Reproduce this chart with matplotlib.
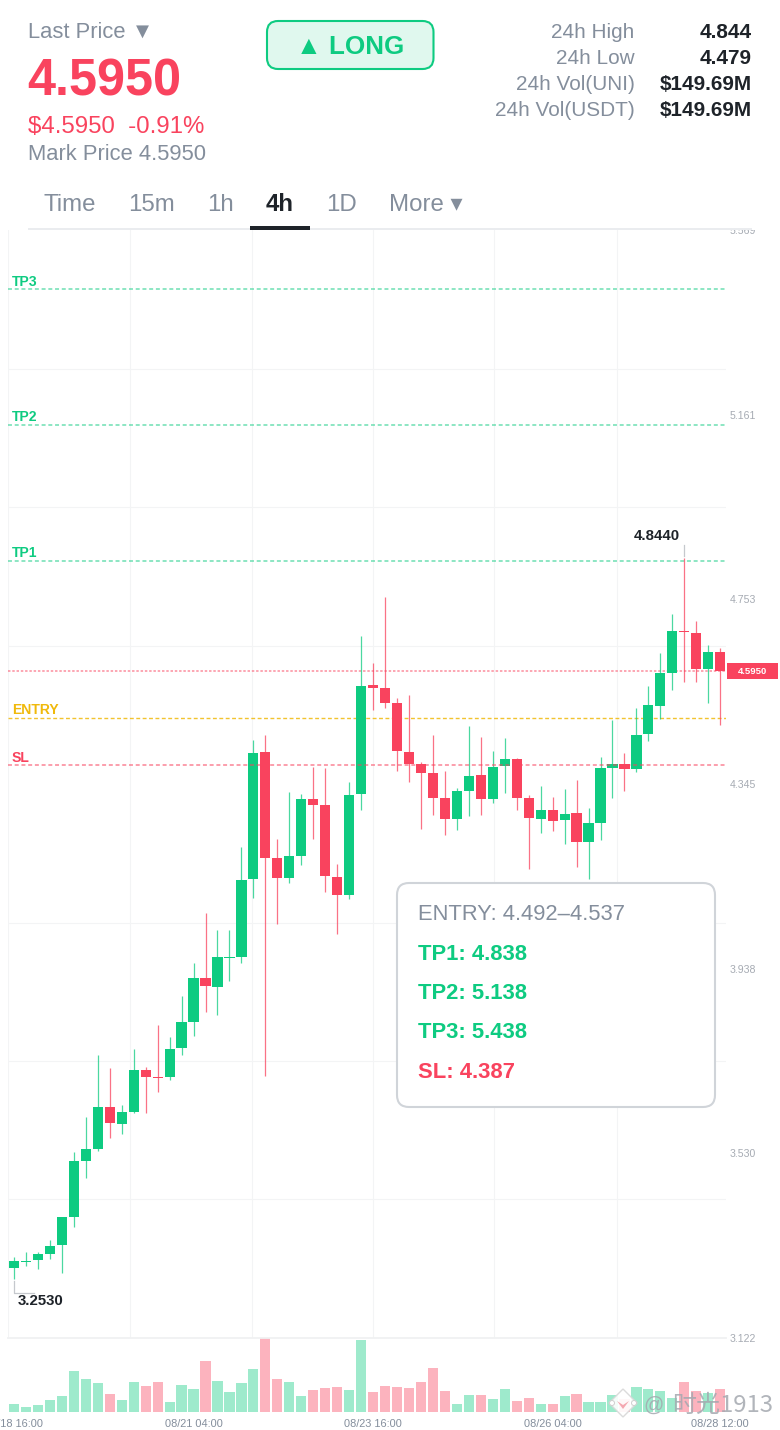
import matplotlib
matplotlib.use('Agg')
import numpy as np
import matplotlib.pyplot as plt
from matplotlib.patches import Circle, FancyBboxPatch, Rectangle, Polygon

plt.rcParams['font.family'] = ['Liberation Sans', 'DejaVu Sans', 'Noto Sans CJK SC']

# 4h candles, 08/18 16:00 -> 08/28 12:00
opens = [3.277, 3.290, 3.294, 3.308, 3.327, 3.390, 3.512, 3.539, 3.633, 3.595,
         3.621, 3.714, 3.699, 3.698, 3.762, 3.819, 3.916, 3.898, 3.961, 3.964,
         4.135, 4.417, 4.183, 4.139, 4.186, 4.312, 4.300, 4.141, 4.100, 4.324,
         4.564, 4.557, 4.525, 4.417, 4.390, 4.369, 4.315, 4.268, 4.331, 4.365,
         4.313, 4.385, 4.401, 4.314, 4.268, 4.287, 4.265, 4.281, 4.217, 4.260,
         4.380, 4.390, 4.379, 4.456, 4.518, 4.591, 4.683, 4.679, 4.599, 4.637]
closes = [3.292, 3.293, 3.308, 3.326, 3.390, 3.513, 3.539, 3.632, 3.596, 3.621,
          3.714, 3.699, 3.697, 3.761, 3.819, 3.916, 3.899, 3.963, 3.963, 4.133,
          4.415, 4.183, 4.139, 4.186, 4.312, 4.300, 4.142, 4.100, 4.322, 4.563,
          4.557, 4.524, 4.418, 4.390, 4.370, 4.315, 4.268, 4.331, 4.364, 4.313,
          4.384, 4.401, 4.314, 4.270, 4.287, 4.264, 4.280, 4.217, 4.259, 4.380,
          4.390, 4.379, 4.454, 4.519, 4.590, 4.684, 4.681, 4.599, 4.637, 4.595]
highs = [3.300, 3.311, 3.313, 3.338, 3.390, 3.533, 3.610, 3.746, 3.718, 3.637,
         3.760, 3.721, 3.813, 3.787, 3.877, 3.950, 4.060, 4.022, 4.023, 4.207,
         4.443, 4.454, 4.223, 4.327, 4.324, 4.384, 4.380, 4.168, 4.351, 4.672,
         4.613, 4.758, 4.535, 4.541, 4.395, 4.453, 4.375, 4.337, 4.474, 4.450,
         4.418, 4.447, 4.403, 4.321, 4.342, 4.317, 4.334, 4.354, 4.293, 4.405,
         4.487, 4.415, 4.514, 4.562, 4.635, 4.721, 4.844, 4.705, 4.652, 4.645]
lows = [3.253, 3.280, 3.275, 3.296, 3.266, 3.367, 3.476, 3.535, 3.564, 3.573,
        3.620, 3.618, 3.666, 3.692, 3.747, 3.790, 3.843, 3.835, 3.911, 3.950,
        4.093, 3.701, 4.036, 4.126, 4.167, 4.223, 4.106, 4.014, 4.092, 4.287,
        4.510, 4.513, 4.374, 4.351, 4.247, 4.276, 4.232, 4.244, 4.274, 4.278,
        4.304, 4.326, 4.288, 4.157, 4.237, 4.242, 4.212, 4.162, 4.136, 4.222,
        4.314, 4.331, 4.373, 4.440, 4.488, 4.552, 4.571, 4.570, 4.524, 4.475]
volumes = [7.7, 5, 7.3, 12, 16.3, 40.7, 32.7, 28.7, 18, 11.7,
           29.7, 26.3, 29.7, 10.3, 27, 23, 50.7, 31, 19.7, 28.7,
           42.7, 74, 32.7, 29.7, 16.3, 22, 23.7, 24.7, 22, 72,
           20.3, 25.7, 25, 24.3, 30, 43.7, 21, 8, 17.3, 16.7,
           13, 22.7, 11, 13.7, 8, 8.3, 16, 17.7, 10, 10,
           17, 13, 25, 23, 21, 14, 30, 21, 19, 23]

price_ticks = [5.569, 5.161, 4.753, 4.345, 3.938, 3.530, 3.122]
price_grid = [5.569, 5.263, 4.957, 4.651, 4.345, 4.039, 3.734, 3.428]
time_grid = [-0.5, 9.69, 19.88, 30.0, 40.14, 50.35]
date_idx = [0, 15, 30, 45, 59]
date_labels = ['08/18 16:00', '08/21 04:00', '08/23 16:00', '08/26 04:00', '08/28 12:00']

tp_levels = [5.438, 5.138, 4.838]
entry_level = 4.492
sl_level = 4.387
last_price = 4.595

GREEN = '#0ecb81'
RED = '#f9435e'
GOLD = '#f0b90b'
GRAY = '#848e9c'
DARK = '#1e2329'
GRID = '#f3f4f5'
W, H = 780, 1430


def fs(px):
    # font size for a pixel height at dpi 100
    return px * 0.72


def axes_px(x0, y0, x1, y1):
    return fig.add_axes([x0 / W, 1 - y1 / H, (x1 - x0) / W, (y1 - y0) / H])


fig = plt.figure(figsize=(W / 100, H / 100), dpi=100, facecolor='white')

# #############################################################################
# Price pane
ax = axes_px(8, 230, 726.2, 1338)
ax.set_xlim(-0.5, 59.5)
ax.set_ylim(3.122, 5.569)
for s in ax.spines.values():
    s.set_visible(False)
ax.set_yticks(price_ticks)
ax.set_yticklabels(['%.3f' % p for p in price_ticks], fontsize=fs(10.5), color='#a6abb3')
ax.yaxis.tick_right()
ax.tick_params(axis='y', which='major', length=0, pad=2.5)
ax.set_yticks(price_grid, minor=True)
ax.set_xticks(time_grid, minor=True)
ax.set_xticks([])
ax.tick_params(which='minor', length=0)
ax.grid(which='minor', color=GRID, lw=0.8)
ax.set_axisbelow(True)

x = np.arange(len(opens))
o = np.array(opens)
c = np.array(closes)
cols = [GREEN if cc >= oo else RED for oo, cc in zip(opens, closes)]

for lvl in tp_levels:
    ax.axhline(lvl, color=GREEN, lw=1.1, dashes=(2.6, 1.8), alpha=0.6, zorder=1)
ax.axhline(entry_level, color=GOLD, lw=1.0, dashes=(2.8, 1.8), alpha=0.85, zorder=1)
ax.axhline(sl_level, color=RED, lw=1.1, dashes=(2.6, 1.8), alpha=0.65, zorder=4)
ax.axhline(last_price, color=RED, lw=1.1, dashes=(1.6, 1.2), alpha=0.6, zorder=1)

ax.vlines(x, lows, highs, colors=cols, lw=0.9, alpha=0.75, zorder=2)
ax.bar(x, np.abs(c - o), bottom=np.minimum(o, c), width=0.85, color=cols, linewidth=0, zorder=3)

# #############################################################################
# Volume pane
vax = axes_px(8, 1338, 726.2, 1412)
vax.set_xlim(-0.5, 59.5)
vax.set_ylim(0, 74)
vax.patch.set_alpha(0)
for s in vax.spines.values():
    s.set_visible(False)
vax.spines['top'].set_visible(True)
vax.spines['top'].set_color('#f0f1f2')
vax.spines['top'].set_linewidth(1.3)
vax.set_yticks([])
vax.set_xticks(date_idx)
vax.set_xticklabels(date_labels, fontsize=fs(11), color=GRAY)
vax.tick_params(axis='x', length=0, pad=5)
vax.bar(x, volumes, width=0.85, color=cols, alpha=0.4, linewidth=0)

# #############################################################################
# Everything in pixels: header, labels, callout
ov = fig.add_axes([0, 0, 1, 1])
ov.set_xlim(0, W)
ov.set_ylim(H, 0)
ov.axis('off')
ov.patch.set_alpha(0)

ov.add_patch(Rectangle((0, 0), W, 229.5, fc='white', ec='none', zorder=1))


def txt(px_x, px_y, s, size, color=GRAY, weight='normal', ha='left', va='baseline', **kw):
    return ov.text(px_x, px_y, s, fontsize=fs(size), color=color, fontweight=weight,
                   ha=ha, va=va, zorder=5, **kw)


txt(28, 38, 'Last Price ▼', 22)
txt(27.5, 95, '4.5950', 50.5, RED, 'bold')
txt(28, 133, '$4.5950  -0.91%', 24, RED)
txt(28, 160, 'Mark Price 4.5950', 22)

ov.add_patch(FancyBboxPatch((267, 21), 166.5, 48, boxstyle='round,pad=0,rounding_size=11',
                            fc='#e0f8ee', ec=GREEN, lw=1.5, zorder=3))
txt(350.5, 54.5, '▲ LONG', 26, GREEN, 'bold', ha='center')

stat_names = ['24h High', '24h Low', '24h Vol(UNI)', '24h Vol(USDT)']
stat_vals = ['4.844', '4.479', '$149.69M', '$149.69M']
for yy, n, v in zip([38, 64, 90, 116], stat_names, stat_vals):
    txt(634.5, yy, n, 20.8, ha='right')
    txt(752, yy, v, 20.8, DARK, 'bold', ha='right')

tab_names = ['Time', '15m', '1h', '4h', '1D', 'More ▾']
tab_x = [44, 128, 207, 266, 326, 389]
for xx, n in zip(tab_x, tab_names):
    if n == '4h':
        txt(xx, 211, n, 24, DARK, 'bold')
    else:
        txt(xx, 211, n, 24)
ov.add_patch(Rectangle((28, 228), 724, 2, fc='#eaecef', ec='none', zorder=4))
ov.add_patch(Rectangle((250, 226), 60, 4, fc=DARK, ec='none', zorder=4))

txt(12, 286, 'TP3', 14, GREEN, 'bold')
txt(12, 421, 'TP2', 14, GREEN, 'bold')
txt(12, 557, 'TP1', 14, GREEN, 'bold')
txt(12, 714, 'ENTRY', 14, GOLD, 'bold')
txt(12, 762, 'SL', 14, RED, 'bold')

# high / low markers
txt(657, 540, '4.8440', 15, DARK, 'bold', ha='center')
ov.plot([684, 684], [545, 556], color='#c5c8cd', lw=0.9, zorder=4)
txt(18, 1305, '3.2530', 15, DARK, 'bold')
ov.plot([14, 14, 34], [1281, 1293, 1293], color='#c5c8cd', lw=0.9, zorder=4)

# last price tag
ov.add_patch(Rectangle((727, 663), 51, 16, fc=RED, ec='none', zorder=4))
txt(752.5, 671, '4.5950', 9.5, 'white', 'bold', ha='center', va='center_baseline')

# callout
ov.add_patch(FancyBboxPatch((397, 883), 318, 224, boxstyle='round,pad=0,rounding_size=12',
                            fc='white', ec='#d0d4d9', lw=1.5, zorder=4))
txt(418, 920, 'ENTRY: 4.492–4.537', 22)
txt(418, 960, 'TP1: 4.838', 22, GREEN, 'bold')
txt(418, 999, 'TP2: 5.138', 22, GREEN, 'bold')
txt(418, 1038, 'TP3: 5.438', 22, GREEN, 'bold')
txt(418, 1078, 'SL: 4.387', 22, RED, 'bold')

# watermark
ov.add_patch(Polygon([(623, 1389), (637, 1403), (623, 1417), (609, 1403)], closed=True,
                     fc='white', ec='#d8d8d8', lw=1, alpha=0.9, zorder=6))
ov.add_patch(Polygon([(617, 1401), (623, 1405), (629, 1401), (623, 1409)], closed=True,
                     fc='#f4a6b0', ec='none', zorder=7))
ov.add_patch(Circle((612, 1403), 2.5, fc='white', ec='#cfcfcf', lw=0.7, zorder=7))
ov.add_patch(Circle((634, 1403), 2.5, fc='white', ec='#cfcfcf', lw=0.7, zorder=7))
wm = txt(643, 1411, '@', 20, '#a4a8af', alpha=0.85)
wm.set_zorder(7)
wm = txt(672, 1412, '时光1913', 24, '#a4a8af', alpha=0.85,
         family=['Noto Sans CJK SC', 'Liberation Sans'])
wm.set_zorder(7)

fig.savefig('out.png', dpi=100, facecolor='white')
